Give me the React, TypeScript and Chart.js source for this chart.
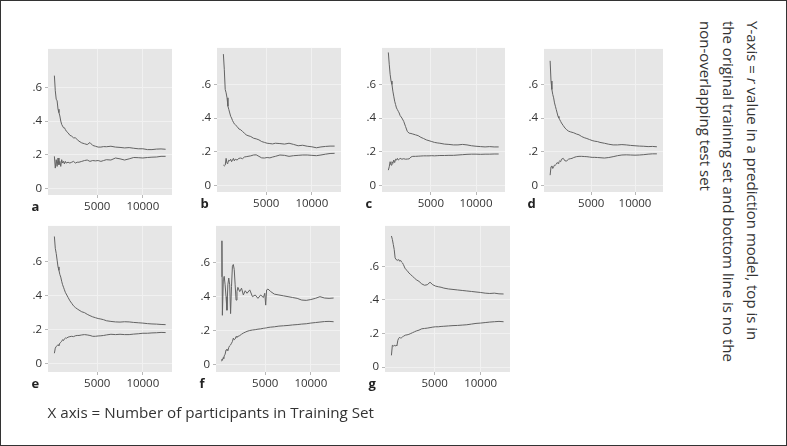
import React, { useEffect, useRef } from "react";
import { Chart, registerables } from "chart.js";

Chart.register(...registerables);

// ---------- data ----------
const X_STEPS = [300, 400, 500, 600, 700, 800, 900, 1000, 1100, 1200, 1300, 1400, 1500, 1600,
  1800, 2000, 2200, 2400, 2600, 2800, 3000,
  3300, 3600, 3900, 4200, 4500, 4800, 5100, 5400, 5700, 6000,
  6500, 7000, 7500, 8000, 8500, 9000, 9500, 10000, 10500, 11000, 11500, 12000, 12500];

const X_STEPS_F = [200, 250, 300, 400, 450, 500, 600, 700, 800, 900, 1000, 1100, 1200, 1300, 1400, 1500, 1600, 1700, 1800, 1900, 2000,
  2200, 2400, 2600, 2800, 3000,
  3300, 3600, 3900, 4200, 4500, 4800,
  4950, 5050, 5150, 5300, 5600, 6000,
  6500, 7000, 7500, 8000, 8500, 9000, 9500, 10000, 10500, 11000, 11500, 12000, 12500];

const A_TRAIN = [0.67, 0.58, 0.53, 0.52, 0.47, 0.45, 0.43, 0.40, 0.38, 0.37, 0.36, 0.36, 0.35, 0.34,
  0.33, 0.315, 0.31, 0.30, 0.30, 0.29, 0.28,
  0.27, 0.265, 0.26, 0.272, 0.255, 0.25, 0.245, 0.245, 0.248, 0.247,
  0.25, 0.245, 0.243, 0.24, 0.242, 0.238, 0.235, 0.235, 0.23, 0.23, 0.233, 0.234, 0.232];
const A_TEST = [0.19, 0.12, 0.17, 0.13, 0.18, 0.14, 0.16, 0.13, 0.17, 0.15, 0.16, 0.145, 0.16, 0.15,
  0.155, 0.15, 0.155, 0.16, 0.15, 0.155, 0.155,
  0.16, 0.165, 0.168, 0.16, 0.165, 0.163, 0.165, 0.16, 0.165, 0.17,
  0.168, 0.18, 0.175, 0.168, 0.175, 0.183, 0.182, 0.18, 0.183, 0.185, 0.186, 0.19, 0.19];

const B_TRAIN = [0.78, 0.69, 0.57, 0.55, 0.52, 0.47, 0.45, 0.43, 0.41, 0.40, 0.385, 0.375, 0.365, 0.36,
  0.35, 0.335, 0.33, 0.32, 0.31, 0.30, 0.295,
  0.29, 0.28, 0.276, 0.27, 0.26, 0.255, 0.25, 0.248, 0.246, 0.25,
  0.248, 0.245, 0.25, 0.243, 0.235, 0.238, 0.232, 0.229, 0.223, 0.228, 0.231, 0.233, 0.233];
const B_TEST = [0.12, 0.115, 0.12, 0.16, 0.13, 0.135, 0.15, 0.145, 0.155, 0.14, 0.15, 0.16, 0.145, 0.155,
  0.15, 0.16, 0.162, 0.158, 0.168, 0.17, 0.172,
  0.175, 0.18, 0.181, 0.172, 0.163, 0.162, 0.165, 0.163, 0.168, 0.172,
  0.18, 0.178, 0.172, 0.176, 0.178, 0.18, 0.18, 0.178, 0.176, 0.18, 0.185, 0.189, 0.19];

const C_TRAIN = [0.79, 0.72, 0.66, 0.62, 0.60, 0.56, 0.53, 0.50, 0.48, 0.46, 0.45, 0.44, 0.43, 0.415,
  0.40, 0.38, 0.35, 0.32, 0.31, 0.308, 0.305,
  0.30, 0.295, 0.285, 0.278, 0.27, 0.265, 0.26, 0.255, 0.252, 0.25,
  0.245, 0.243, 0.24, 0.24, 0.243, 0.24, 0.235, 0.232, 0.23, 0.228, 0.23, 0.228, 0.228];
const C_TEST = [0.09, 0.11, 0.14, 0.12, 0.14, 0.13, 0.15, 0.135, 0.155, 0.15, 0.16, 0.15, 0.155, 0.16,
  0.155, 0.158, 0.155, 0.156, 0.157, 0.168, 0.172,
  0.172, 0.173, 0.174, 0.175, 0.175, 0.175, 0.176, 0.175, 0.176, 0.177,
  0.177, 0.178, 0.178, 0.18, 0.182, 0.184, 0.185, 0.185, 0.184, 0.185, 0.185, 0.186, 0.186];

const D_TRAIN = [0.74, 0.62, 0.57, 0.54, 0.52, 0.49, 0.47, 0.45, 0.43, 0.41, 0.40, 0.39, 0.38, 0.37,
  0.355, 0.34, 0.33, 0.322, 0.318, 0.315, 0.312,
  0.305, 0.30, 0.29, 0.283, 0.278, 0.272, 0.266, 0.262, 0.26, 0.255,
  0.25, 0.244, 0.24, 0.24, 0.242, 0.24, 0.237, 0.235, 0.233, 0.232, 0.23, 0.231, 0.229];
const D_TEST = [0.06, 0.11, 0.115, 0.10, 0.11, 0.12, 0.12, 0.125, 0.135, 0.13, 0.14, 0.145, 0.14, 0.155,
  0.16, 0.145, 0.145, 0.155, 0.158, 0.16, 0.165,
  0.17, 0.172, 0.172, 0.171, 0.17, 0.168, 0.166, 0.166, 0.165, 0.164,
  0.162, 0.165, 0.17, 0.176, 0.18, 0.181, 0.18, 0.179, 0.18, 0.182, 0.185, 0.187, 0.187];

const E_TRAIN = [0.75, 0.68, 0.65, 0.61, 0.57, 0.55, 0.525, 0.51, 0.485, 0.465, 0.45, 0.435, 0.42, 0.41,
  0.39, 0.37, 0.355, 0.34, 0.33, 0.322, 0.315,
  0.305, 0.30, 0.29, 0.282, 0.275, 0.27, 0.265, 0.262, 0.258, 0.252,
  0.248, 0.245, 0.244, 0.246, 0.245, 0.242, 0.24, 0.238, 0.235, 0.233, 0.232, 0.23, 0.229];
const E_TEST = [0.06, 0.09, 0.10, 0.105, 0.11, 0.105, 0.12, 0.125, 0.13, 0.14, 0.135, 0.145, 0.15, 0.148,
  0.155, 0.158, 0.16, 0.158, 0.163, 0.165, 0.165,
  0.168, 0.17, 0.168, 0.165, 0.16, 0.16, 0.162, 0.163, 0.165, 0.168,
  0.172, 0.17, 0.172, 0.17, 0.17, 0.173, 0.175, 0.178, 0.178, 0.18, 0.181, 0.183, 0.182];

const F_TRAIN = [0.52, 0.73, 0.29, 0.50, 0.51, 0.52, 0.47, 0.40, 0.32, 0.47, 0.51, 0.47, 0.30, 0.46, 0.58, 0.59, 0.56, 0.47, 0.38, 0.43, 0.455,
  0.43, 0.45, 0.41, 0.435, 0.42,
  0.44, 0.40, 0.41, 0.39, 0.41, 0.395,
  0.42, 0.35, 0.44, 0.445, 0.43, 0.415,
  0.41, 0.405, 0.40, 0.395, 0.39, 0.38, 0.378, 0.383, 0.39, 0.40, 0.392, 0.39, 0.392];
const F_TEST = [0.02, 0.03, 0.025, 0.04, 0.035, 0.05, 0.06, 0.085, 0.09, 0.08, 0.10, 0.11, 0.115, 0.125, 0.135, 0.155, 0.145, 0.15, 0.165, 0.16, 0.165,
  0.17, 0.178, 0.185, 0.19, 0.195,
  0.2, 0.203, 0.205, 0.208, 0.21, 0.213,
  0.214, 0.215, 0.216, 0.218, 0.22, 0.222,
  0.226, 0.228, 0.23, 0.233, 0.235, 0.238, 0.24, 0.244, 0.247, 0.25, 0.253, 0.254, 0.252];

const G_TRAIN = [0.78, 0.76, 0.73, 0.70, 0.65, 0.64, 0.64, 0.635, 0.64, 0.63, 0.635, 0.625, 0.62, 0.61,
  0.585, 0.575, 0.56, 0.55, 0.54, 0.53, 0.52,
  0.51, 0.495, 0.487, 0.49, 0.505, 0.49, 0.482, 0.478, 0.475, 0.47,
  0.465, 0.462, 0.459, 0.456, 0.453, 0.45, 0.447, 0.444, 0.44, 0.438, 0.44, 0.436, 0.435];
const G_TEST = [0.07, 0.13, 0.125, 0.13, 0.125, 0.13, 0.128, 0.16, 0.172, 0.178, 0.172, 0.175, 0.18, 0.183,
  0.19, 0.192, 0.195, 0.2, 0.205, 0.21, 0.215,
  0.22, 0.228, 0.23, 0.232, 0.235, 0.238, 0.24, 0.24, 0.242, 0.243,
  0.245, 0.247, 0.248, 0.25, 0.252, 0.256, 0.26, 0.262, 0.265, 0.268, 0.27, 0.272, 0.27];

const PANEL_LETTERS = ["a", "b", "c", "d", "e", "f", "g"];
const Y_TICKS = [0, 0.2, 0.4, 0.6];
const X_TICKS = [5000, 10000];
const X_MIN = -400;
const X_MAX = 13200;

const X_LABEL = "X axis = Number of participants in Training Set";

// ---------- layout / style ----------
const LAYOUT = [
  { l: 48, t: 43, w: 124, h: 152, yMin: -0.04, yMax: 0.829 },
  { l: 217, t: 42, w: 124, h: 150, yMin: -0.04, yMax: 0.817 },
  { l: 382, t: 42, w: 123, h: 150, yMin: -0.04, yMax: 0.817 },
  { l: 544, t: 43, w: 119, h: 149, yMin: -0.04, yMax: 0.811 },
  { l: 48, t: 220, w: 124, h: 152, yMin: -0.051, yMax: 0.8125 },
  { l: 216, t: 220, w: 124, h: 152, yMin: -0.045, yMax: 0.818 },
  { l: 385, t: 220, w: 125, h: 152, yMin: -0.029, yMax: 0.84 },
];

const PANEL_DATA = [
  { xs: X_STEPS, train: A_TRAIN, test: A_TEST },
  { xs: X_STEPS, train: B_TRAIN, test: B_TEST },
  { xs: X_STEPS, train: C_TRAIN, test: C_TEST },
  { xs: X_STEPS, train: D_TRAIN, test: D_TEST },
  { xs: X_STEPS, train: E_TRAIN, test: E_TEST },
  { xs: X_STEPS_F, train: F_TRAIN, test: F_TEST },
  { xs: X_STEPS, train: G_TRAIN, test: G_TEST },
];

const FONT = "'Open Sans', 'DejaVu Sans', sans-serif";
const PLOT_BG = "#e6e6e6";
const GRID = "#f1f1f1";
const LINE = "#636363";
const TEXT = "#333333";
const AXW = 40;
const AXH = 22;
const PT = 4;
const PR = 8;

const bgPlugin = {
  id: "plotBg",
  beforeDraw(chart: any) {
    const { ctx, chartArea } = chart;
    if (!chartArea) return;
    ctx.save();
    ctx.fillStyle = PLOT_BG;
    ctx.fillRect(chartArea.left, chartArea.top, chartArea.right - chartArea.left, chartArea.bottom - chartArea.top);
    ctx.restore();
  },
};

function fmtY(v: number) {
  if (Math.abs(v) < 1e-9) return "0";
  return "." + Math.round(v * 10);
}

function Panel({ idx }: { idx: number }) {
  const ref = useRef<HTMLCanvasElement>(null);
  const lay = LAYOUT[idx];
  const d = PANEL_DATA[idx];
  const cw = AXW + lay.w + PR;
  const ch = PT + lay.h + AXH;

  useEffect(() => {
    const canvas = ref.current;
    if (!canvas) return;
    const chart = new Chart(canvas, {
      type: "line",
      data: {
        datasets: [
          {
            data: d.xs.map((x, i) => ({ x, y: d.train[i] })),
            borderColor: LINE,
            borderWidth: 1,
            pointRadius: 0,
            tension: 0,
            fill: false,
          },
          {
            data: d.xs.map((x, i) => ({ x, y: d.test[i] })),
            borderColor: LINE,
            borderWidth: 1,
            pointRadius: 0,
            tension: 0,
            fill: false,
          },
        ],
      },
      options: {
        animation: false,
        responsive: false,
        maintainAspectRatio: false,
        events: [],
        layout: { padding: { top: PT, right: PR, left: 0, bottom: 0 } },
        plugins: { legend: { display: false }, tooltip: { enabled: false }, title: { display: false } },
        scales: {
          x: {
            type: "linear",
            min: X_MIN,
            max: X_MAX,
            afterBuildTicks: (s: any) => {
              s.ticks = X_TICKS.map((v) => ({ value: v }));
            },
            afterFit: (s: any) => {
              s.height = AXH;
            },
            ticks: {
              font: { family: FONT, size: 11.5 },
              color: TEXT,
              padding: 2,
              maxRotation: 0,
              autoSkip: false,
              callback: (v: any) => String(v),
            },
            grid: { color: GRID, lineWidth: 1, tickLength: 3, tickColor: "#b8b8b8" },
            border: { display: false },
          },
          y: {
            type: "linear",
            min: lay.yMin,
            max: lay.yMax,
            afterBuildTicks: (s: any) => {
              s.ticks = Y_TICKS.map((v) => ({ value: v }));
            },
            afterFit: (s: any) => {
              s.width = AXW;
            },
            ticks: {
              font: { family: FONT, size: 11.5 },
              color: TEXT,
              padding: 3,
              autoSkip: false,
              callback: (v: any) => fmtY(Number(v)),
            },
            grid: { color: GRID, lineWidth: 1, tickLength: 3, tickColor: "#b8b8b8" },
            border: { display: false },
          },
        },
      },
      plugins: [bgPlugin],
    } as any);
    return () => chart.destroy();
  }, []);

  return (
    <>
      <canvas
        ref={ref}
        width={cw}
        height={ch}
        style={{ position: "absolute", left: lay.l - AXW, top: lay.t - PT, width: cw, height: ch }}
      />
      <span
        style={{
          position: "absolute",
          left: lay.l - 16,
          top: lay.t + lay.h + 3,
          font: `bold 13px ${FONT}`,
          lineHeight: "16px",
          color: "#222",
        }}
      >
        {PANEL_LETTERS[idx]}
      </span>
    </>
  );
}

export default function App() {
  return (
    <div
      style={{
        position: "absolute",
        left: 0,
        top: 0,
        width: 787,
        height: 446,
        boxSizing: "border-box",
        border: "1.5px solid #333",
        background: "#fff",
        overflow: "hidden",
      }}
    >
      <div style={{ position: "absolute", left: -1.5, top: -1.5, width: 787, height: 446 }}>
        {LAYOUT.map((_, i) => (
          <Panel key={i} idx={i} />
        ))}
        <div
          style={{
            position: "absolute",
            left: 48,
            top: 402,
            font: `15.2px ${FONT}`,
            lineHeight: "20px",
            color: TEXT,
            whiteSpace: "nowrap",
          }}
        >
          {X_LABEL}
        </div>
        <div
          style={{
            position: "absolute",
            right: 787 - 764,
            top: 21,
            writingMode: "vertical-rl",
            font: `15px ${FONT}`,
            lineHeight: "23.5px",
            color: TEXT,
            whiteSpace: "nowrap",
          }}
        >
          Y-axis = <i>r</i> value in a prediction model, top is in
          <br />
          the original training set and bottom line is no the
          <br />
          non-overlapping test set
        </div>
      </div>
    </div>
  );
}
